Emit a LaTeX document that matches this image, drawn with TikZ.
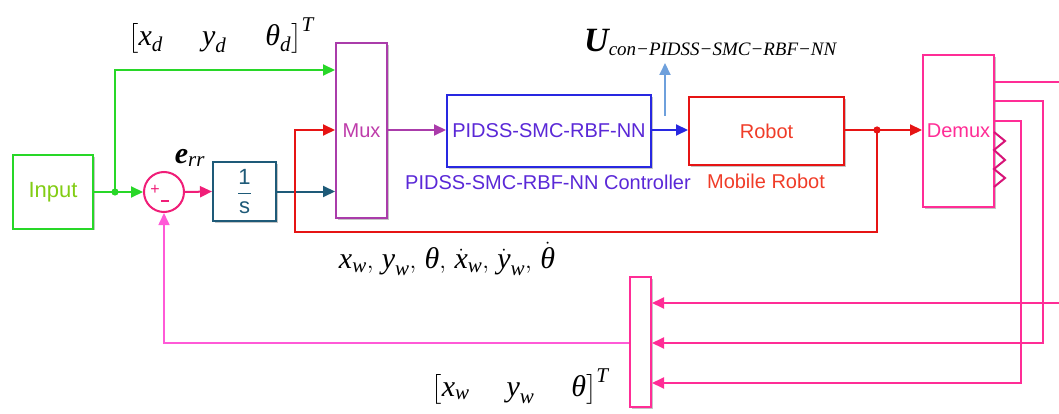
\documentclass[tikz,border=0pt]{standalone}
\usepackage{amsmath}
\usepackage{fontspec}
\setsansfont{Liberation Sans}
\newfontfamily\tms{Liberation Serif}
\usetikzlibrary{arrows.meta,shadows,calc}
\newcommand{\tv}[1]{\text{\tms\itshape #1}}
\newcommand{\tb}[1]{\text{\tms\bfseries\itshape #1}}
\definecolor{cgreen}{RGB}{40,215,40}
\definecolor{cinput}{RGB}{130,205,20}
\definecolor{cteal}{RGB}{30,90,120}
\definecolor{cmux}{RGB}{170,60,170}
\definecolor{cmuxt}{RGB}{190,60,170}
\definecolor{cblue}{RGB}{40,40,225}
\definecolor{cbluet}{RGB}{90,40,215}
\definecolor{cred}{RGB}{230,20,20}
\definecolor{credt}{RGB}{240,60,40}
\definecolor{cpink}{RGB}{255,45,150}
\definecolor{cpinkd}{RGB}{215,20,120}
\definecolor{csum}{RGB}{240,30,120}
\definecolor{cfb}{RGB}{255,90,215}
\definecolor{clb}{RGB}{110,160,220}
\begin{document}
\begin{tikzpicture}[x=1pt,y=-1pt,
  >={Triangle[length=12pt,width=11pt]},
  blk/.style={draw, line width=2pt, fill=white,
    drop shadow={shadow xshift=1.8pt,shadow yshift=-1.8pt,fill=black!45,opacity=0.5},
    font=\sffamily\fontsize{20}{23}\selectfont, inner sep=0pt},
  wire/.style={line width=2pt},
  lbl/.style={font=\sffamily\fontsize{20}{23}\selectfont, inner sep=0pt},
  mth/.style={font=\fontsize{30}{34}\selectfont, inner sep=0pt}]
\useasboundingbox (0,0) rectangle (1059,414);

% blocks
\node[blk, draw=cgreen, text=cinput, font=\sffamily\fontsize{22}{25}\selectfont, minimum width=80pt, minimum height=73pt] (input) at (53,192) {Input};
\node[circle, draw=csum, line width=2pt, fill=white, minimum size=40pt, inner sep=0pt] (sum) at (164,192) {};
\node[text=csum, font=\sffamily\fontsize{16}{18}\selectfont, inner sep=0pt] (plus) at (155,190) {+};
\node[text=csum, inner sep=0pt] (minus) at (165,201) {\rule{8pt}{1.6pt}};
\node[blk, draw=cteal, text=cteal, font=\sffamily\fontsize{22}{25}\selectfont, minimum width=63pt, minimum height=59pt] (integ) at (244.5,191.5)
  {$\dfrac{\text{\sffamily 1}}{\text{\sffamily s}}$};
\node[blk, draw=cmux, text=cmuxt, minimum width=51pt, minimum height=175pt] (mux) at (361.5,130.5) {Mux};
\node[blk, draw=cblue, text=cbluet, minimum width=204pt, minimum height=72pt] (pid) at (549,131) {PIDSS-SMC-RBF-NN};
\node[blk, draw=cred, text=credt, minimum width=155pt, minimum height=68pt] (robot) at (766.5,131) {Robot};
\node[blk, draw=cpink, text=cpink, minimum width=71pt, minimum height=152pt] (demux) at (958.5,131) {Demux};
\node[blk, draw=cpink, minimum width=21pt, minimum height=130pt] (mux2) at (640.5,342) {};

% block captions
\node[lbl, text=cbluet] (pidlbl) at (548,182) {PIDSS-SMC-RBF-NN Controller};
\node[lbl, text=credt] (roblbl) at (766,181) {Mobile Robot};

% math labels
\node[mth] (lxd) at (221,36) {$\bigl[\tv{x}_{\tv{d}}\quad\ \tv{y}_{\tv{d}}\quad\ \tv{θ}_{\tv{d}}\bigr]^{\tv{T}}$};
\node[mth] (lerr) at (190,158) {$\tb{e}_{\tv{rr}}$};
\node[mth, font=\fontsize{34}{38}\selectfont, anchor=west] (lu) at (584,42)
  {$\tb{U}_{\text{\fontsize{19}{22}\selectfont\tms\itshape con−PIDSS−SMC−RBF−NN}}$};
\node[mth] (lxw) at (447,259) {$\tv{x}_{\tv{w}},\,\tv{y}_{\tv{w}},\,\tv{θ},\,\dot{\tv{x}}_{\tv{w}},\,\dot{\tv{y}}_{\tv{w}},\,\dot{\tv{θ}}$};
\node[mth] (lxw2) at (520,387) {$\bigl[\tv{x}_{\tv{w}}\quad\;\tv{y}_{\tv{w}}\quad\;\tv{θ}\bigr]^{\tv{T}}$};

% junctions and coordinates
\fill[cgreen] (115,192) circle (3.6pt) coordinate (j1);
\fill[cred] (877,130) circle (3.6pt) coordinate (rdot);
\coordinate (gt) at (115,70);
\coordinate (rb) at (877,232);
\coordinate (lb) at (295,232);
\coordinate (lt) at (295,130);
\coordinate (ub) at (665,116);
\coordinate (ut) at (665,63);
\coordinate (d1) at (994,82);
\coordinate (d2) at (994,101);
\coordinate (d3) at (994,121);
\coordinate (e1) at (1059,82);
\coordinate (v2) at (1043,343);
\coordinate (v3) at (1021,383);
\coordinate (e2) at (1059,303);

% connectors
\draw[wire, cgreen] (input.east) -- (j1);
\draw[wire, cgreen, ->] (j1) -- (sum.west);
\draw[wire, cgreen, ->] (j1) -- (gt) -- (mux.west |- gt);
\draw[wire, csum, ->] (sum.east) -- (integ.west);
\draw[wire, cteal, ->] (integ.east) -- (mux.west |- integ.east);
\draw[wire, cred, ->] (rdot) -- (rb) -- (lb) -- (lt) -- (mux.west |- lt);
\draw[wire, cmux, ->] (mux.east |- lt) -- (pid.west |- lt);
\draw[wire, cblue, ->] (pid.east |- lt) -- (robot.west |- lt);
\draw[wire, clb, ->] (ub) -- (ut);
\draw[wire, cred] (robot.east |- rdot) -- (rdot);
\draw[wire, cred, ->] (rdot) -- (demux.west |- rdot);
\draw[wire, cpink] (d1) -- (e1);
\draw[wire, cpink, ->] (d2) -| (v2) -- (mux2.east |- v2);
\draw[wire, cpink, ->] (d3) -| (v3) -- (mux2.east |- v3);
\draw[wire, cpink, ->] (e2) -- (mux2.east |- e2);
\draw[line width=1.6pt, cfb, ->] (mux2.west |- v2) -- (sum.south |- v2) -- (sum.south);
\draw[line width=2pt, cpinkd] (994,132) -- (1005,141) -- (994,150) -- (1005,160) -- (994,169) -- (1005,178) -- (994,187);
\end{tikzpicture}
\end{document}
